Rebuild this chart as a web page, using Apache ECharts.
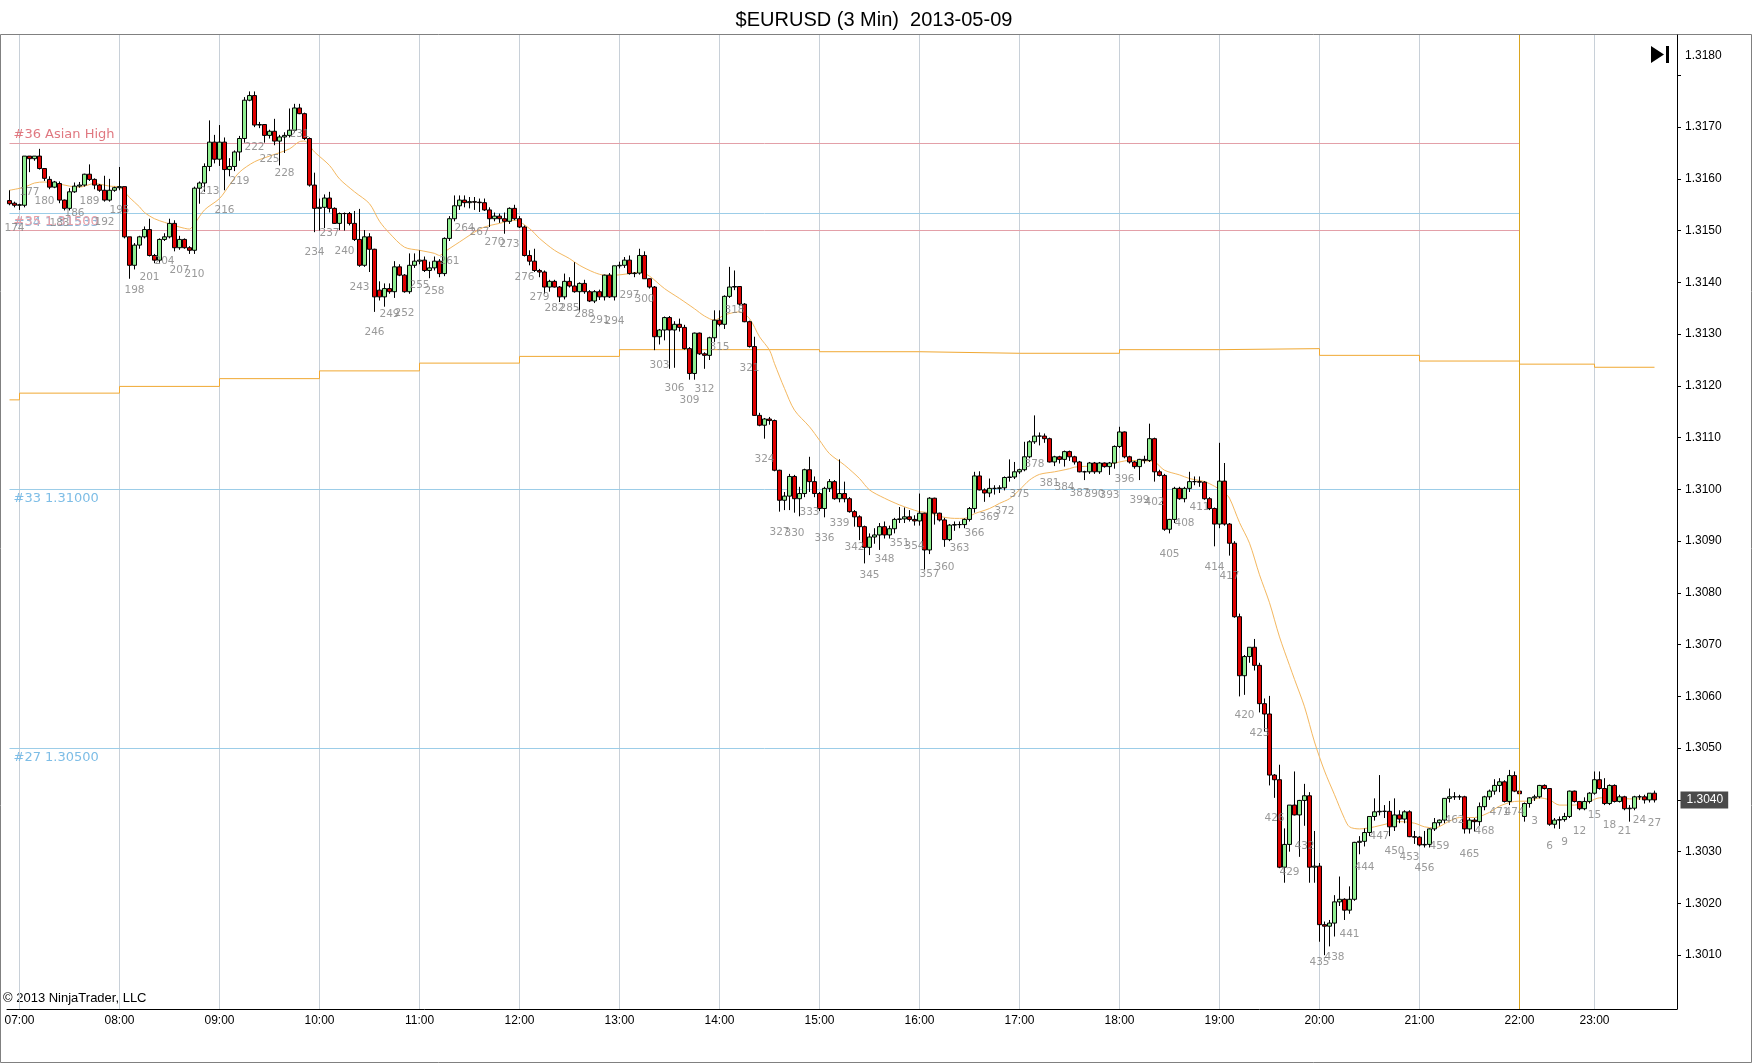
<!DOCTYPE html>
<html><head><meta charset="utf-8">
<script src="https://cdn.jsdelivr.net/npm/echarts@6/dist/echarts.min.js"></script>
<style>html,body{margin:0;padding:0;background:#fff}#c{width:1752px;height:1064px}</style>
</head><body><div id="c"></div>
<script>
const chartTitle = '$EURUSD (3 Min)  2013-05-09';
const copyrightText = '\u00A9 2013 NinjaTrader, LLC';
const session1Start = {bar: 173, time: '06:54'};
const session2Start = {bar: 1, time: '22:18'};
// [open, high, low, close] per 3-minute bar, session 1 (bars 173..475)
const ohlc1 = [
[1.31558,1.31578,1.31549,1.31552],[1.31553,1.31556,1.31545,1.31549],[1.31549,1.31552,1.31540,1.31550],[1.31549,1.31644,1.31545,1.31644],
[1.31644,1.31644,1.31613,1.31639],[1.31639,1.31644,1.31635,1.31644],[1.31644,1.31658,1.31618,1.31620],[1.31620,1.31620,1.31596,1.31601],
[1.31599,1.31605,1.31580,1.31584],[1.31584,1.31596,1.31582,1.31594],[1.31591,1.31595,1.31553,1.31559],[1.31559,1.31560,1.31539,1.31543],
[1.31543,1.31582,1.31539,1.31575],[1.31575,1.31593,1.31573,1.31586],[1.31586,1.31594,1.31583,1.31588],[1.31588,1.31610,1.31585,1.31609],
[1.31609,1.31628,1.31596,1.31599],[1.31599,1.31601,1.31580,1.31588],[1.31588,1.31590,1.31575,1.31578],[1.31578,1.31606,1.31556,1.31559],
[1.31559,1.31600,1.31556,1.31578],[1.31578,1.31585,1.31575,1.31583],[1.31583,1.31623,1.31578,1.31585],[1.31585,1.31585,1.31485,1.31488],
[1.31488,1.31488,1.31407,1.31433],[1.31433,1.31476,1.31425,1.31472],[1.31472,1.31490,1.31465,1.31488],[1.31488,1.31508,1.31485,1.31502],
[1.31502,1.31523,1.31450,1.31452],[1.31452,1.31455,1.31437,1.31443],[1.31443,1.31485,1.31438,1.31483],[1.31483,1.31495,1.31480,1.31488],
[1.31488,1.31523,1.31485,1.31514],[1.31514,1.31520,1.31460,1.31467],[1.31467,1.31490,1.31463,1.31483],[1.31483,1.31485,1.31465,1.31467],
[1.31467,1.31470,1.31455,1.31462],[1.31462,1.31585,1.31455,1.31582],[1.31582,1.31595,1.31552,1.31592],[1.31592,1.31630,1.31575,1.31624],
[1.31624,1.31713,1.31615,1.31671],[1.31671,1.31685,1.31630,1.31638],[1.31638,1.31704,1.31625,1.31671],[1.31671,1.31680,1.31578,1.31618],
[1.31618,1.31640,1.31605,1.31624],[1.31624,1.31655,1.31615,1.31652],[1.31652,1.31683,1.31635,1.31678],[1.31678,1.31758,1.31670,1.31752],
[1.31752,1.31769,1.31750,1.31761],[1.31761,1.31769,1.31700,1.31704],[1.31704,1.31710,1.31698,1.31705],[1.31705,1.31706,1.31670,1.31684],
[1.31684,1.31695,1.31678,1.31692],[1.31692,1.31716,1.31665,1.31673],[1.31673,1.31685,1.31626,1.31681],[1.31681,1.31690,1.31650,1.31684],
[1.31684,1.31736,1.31680,1.31694],[1.31694,1.31745,1.31690,1.31737],[1.31737,1.31745,1.31725,1.31726],[1.31726,1.31728,1.31675,1.31678],
[1.31678,1.31680,1.31585,1.31588],[1.31588,1.31612,1.31497,1.31543],[1.31543,1.31562,1.31500,1.31545],[1.31545,1.31570,1.31505,1.31563],
[1.31563,1.31575,1.31535,1.31543],[1.31543,1.31545,1.31513,1.31514],[1.31514,1.31535,1.31501,1.31533],[1.31533,1.31535,1.31500,1.31533],
[1.31533,1.31536,1.31510,1.31514],[1.31514,1.31538,1.31480,1.31483],[1.31483,1.31542,1.31430,1.31433],[1.31433,1.31501,1.31430,1.31488],
[1.31488,1.31495,1.31420,1.31464],[1.31464,1.31465,1.31343,1.31372],[1.31385,1.31402,1.31365,1.31372],[1.31372,1.31398,1.31353,1.31388],
[1.31388,1.31398,1.31378,1.31382],[1.31382,1.31441,1.31370,1.31430],[1.31430,1.31435,1.31412,1.31414],[1.31414,1.31416,1.31380,1.31382],
[1.31382,1.31456,1.31378,1.31433],[1.31433,1.31456,1.31428,1.31441],[1.31441,1.31462,1.31435,1.31443],[1.31443,1.31450,1.31420,1.31423],
[1.31423,1.31440,1.31408,1.31428],[1.31428,1.31450,1.31423,1.31441],[1.31441,1.31445,1.31410,1.31417],[1.31417,1.31487,1.31412,1.31485],
[1.31485,1.31528,1.31480,1.31523],[1.31523,1.31568,1.31518,1.31548],[1.31548,1.31568,1.31540,1.31559],[1.31559,1.31568,1.31545,1.31554],
[1.31554,1.31565,1.31543,1.31556],[1.31556,1.31565,1.31540,1.31555],[1.31555,1.31562,1.31536,1.31554],[1.31554,1.31562,1.31538,1.31540],
[1.31540,1.31545,1.31507,1.31523],[1.31523,1.31535,1.31518,1.31528],[1.31528,1.31533,1.31515,1.31523],[1.31523,1.31535,1.31494,1.31518],
[1.31518,1.31545,1.31513,1.31543],[1.31543,1.31550,1.31520,1.31523],[1.31523,1.31528,1.31505,1.31507],[1.31507,1.31510,1.31450,1.31452],
[1.31452,1.31462,1.31433,1.31441],[1.31441,1.31465,1.31420,1.31423],[1.31423,1.31426,1.31410,1.31420],[1.31420,1.31423,1.31378,1.31391],
[1.31391,1.31405,1.31382,1.31402],[1.31402,1.31405,1.31390,1.31391],[1.31391,1.31393,1.31362,1.31372],[1.31372,1.31417,1.31367,1.31402],
[1.31402,1.31410,1.31390,1.31393],[1.31393,1.31439,1.31380,1.31382],[1.31382,1.31400,1.31343,1.31398],[1.31398,1.31405,1.31378,1.31382],
[1.31382,1.31385,1.31362,1.31364],[1.31364,1.31385,1.31360,1.31382],[1.31382,1.31386,1.31366,1.31372],[1.31372,1.31415,1.31365,1.31414],
[1.31414,1.31418,1.31370,1.31372],[1.31372,1.31432,1.31365,1.31432],[1.31432,1.31440,1.31427,1.31433],[1.31433,1.31449,1.31428,1.31443],
[1.31443,1.31452,1.31415,1.31417],[1.31417,1.31420,1.31410,1.31418],[1.31418,1.31465,1.31415,1.31452],[1.31452,1.31460,1.31407,1.31407],
[1.31407,1.31408,1.31388,1.31391],[1.31391,1.31393,1.31269,1.31295],[1.31295,1.31310,1.31280,1.31308],[1.31308,1.31334,1.31288,1.31332],
[1.31332,1.31335,1.31233,1.31308],[1.31308,1.31325,1.31235,1.31319],[1.31319,1.31330,1.31305,1.31313],[1.31313,1.31318,1.31270,1.31272],
[1.31272,1.31275,1.31212,1.31224],[1.31224,1.31303,1.31212,1.31302],[1.31302,1.31303,1.31260,1.31262],[1.31262,1.31265,1.31233,1.31259],
[1.31259,1.31295,1.31250,1.31293],[1.31293,1.31346,1.31285,1.31327],[1.31327,1.31346,1.31315,1.31319],[1.31319,1.31375,1.31310,1.31373],
[1.31373,1.31430,1.31370,1.31391],[1.31391,1.31423,1.31385,1.31392],[1.31392,1.31393,1.31355,1.31358],[1.31358,1.31360,1.31323,1.31324],
[1.31324,1.31326,1.31274,1.31276],[1.31276,1.31295,1.31142,1.31143],[1.31143,1.31148,1.31122,1.31124],[1.31124,1.31138,1.31098,1.31136],
[1.31136,1.31140,1.31125,1.31133],[1.31133,1.31135,1.31035,1.31037],[1.31037,1.31038,1.30957,1.30979],[1.30979,1.30995,1.30960,1.30987],
[1.30987,1.31030,1.30960,1.31025],[1.31025,1.31028,1.30955,1.30982],[1.30982,1.31005,1.30948,1.30992],[1.30992,1.31040,1.30985,1.31038],
[1.31038,1.31063,1.30995,1.31015],[1.31015,1.31025,1.30985,1.30992],[1.30992,1.30995,1.30958,1.30963],[1.30963,1.31005,1.30946,1.31002],
[1.31002,1.31020,1.30995,1.31015],[1.31015,1.31018,1.30980,1.30982],[1.30982,1.31058,1.30975,1.30992],[1.30992,1.31015,1.30975,1.30982],
[1.30982,1.30985,1.30955,1.30957],[1.30957,1.30960,1.30928,1.30947],[1.30947,1.30950,1.30902,1.30928],[1.30928,1.30930,1.30857,1.30888],
[1.30888,1.30915,1.30873,1.30908],[1.30908,1.30925,1.30895,1.30912],[1.30912,1.30935,1.30883,1.30928],[1.30928,1.30938,1.30905,1.30912],
[1.30912,1.30930,1.30905,1.30924],[1.30924,1.30945,1.30915,1.30942],[1.30942,1.30966,1.30935,1.30943],[1.30943,1.30965,1.30935,1.30947],
[1.30947,1.30960,1.30938,1.30942],[1.30942,1.30950,1.30930,1.30939],[1.30939,1.30992,1.30930,1.30954],[1.30954,1.30955,1.30845,1.30883],
[1.30883,1.30985,1.30875,1.30983],[1.30983,1.30984,1.30932,1.30954],[1.30954,1.30955,1.30938,1.30941],[1.30941,1.30945,1.30889,1.30903],
[1.30903,1.30933,1.30900,1.30931],[1.30931,1.30938,1.30920,1.30932],[1.30932,1.30938,1.30925,1.30932],[1.30932,1.30944,1.30925,1.30942],
[1.30942,1.30966,1.30938,1.30963],[1.30963,1.31034,1.30955,1.31026],[1.31026,1.31035,1.30998,1.30999],[1.30999,1.31002,1.30976,1.30993],
[1.30993,1.31021,1.30985,1.31002],[1.31002,1.31008,1.30990,1.31002],[1.31002,1.31008,1.30993,1.31003],[1.31003,1.31025,1.30998,1.31023],
[1.31023,1.31058,1.31015,1.31024],[1.31024,1.31053,1.31020,1.31034],[1.31034,1.31040,1.31030,1.31038],[1.31038,1.31092,1.31035,1.31063],
[1.31063,1.31095,1.31060,1.31092],[1.31092,1.31143,1.31088,1.31103],[1.31103,1.31110,1.31085,1.31103],[1.31103,1.31108,1.31090,1.31098],
[1.31098,1.31100,1.31052,1.31053],[1.31053,1.31065,1.31045,1.31063],[1.31063,1.31065,1.31050,1.31058],[1.31058,1.31075,1.31044,1.31073],
[1.31073,1.31075,1.31055,1.31063],[1.31063,1.31065,1.31048,1.31053],[1.31053,1.31055,1.31033,1.31034],[1.31034,1.31036,1.31018,1.31034],
[1.31034,1.31053,1.31030,1.31051],[1.31051,1.31053,1.31030,1.31034],[1.31034,1.31053,1.31030,1.31051],[1.31051,1.31052,1.31042,1.31044],
[1.31044,1.31053,1.31028,1.31051],[1.31051,1.31085,1.31040,1.31083],[1.31083,1.31121,1.31080,1.31111],[1.31111,1.31112,1.31060,1.31063],
[1.31063,1.31065,1.31050,1.31053],[1.31053,1.31055,1.31040,1.31044],[1.31044,1.31059,1.31018,1.31058],[1.31058,1.31065,1.31050,1.31056],
[1.31056,1.31127,1.31053,1.31098],[1.31098,1.31100,1.31015,1.31034],[1.31034,1.31038,1.31025,1.31027],[1.31027,1.31030,1.30920,1.30923],
[1.30923,1.30943,1.30915,1.30942],[1.30942,1.31005,1.30935,1.31002],[1.31002,1.31005,1.30980,1.30982],[1.30982,1.31005,1.30975,1.31002],
[1.31002,1.31034,1.30995,1.31015],[1.31015,1.31025,1.31008,1.31015],[1.31015,1.31025,1.31005,1.31014],[1.31014,1.31016,1.30980,1.30982],
[1.30982,1.30985,1.30960,1.30963],[1.30963,1.30965,1.30890,1.30933],[1.30933,1.31090,1.30925,1.31016],[1.31016,1.31051,1.30930,1.30933],
[1.30933,1.30935,1.30872,1.30896],[1.30896,1.30900,1.30752,1.30754],[1.30754,1.30760,1.30600,1.30640],[1.30640,1.30680,1.30603,1.30677],
[1.30677,1.30695,1.30665,1.30695],[1.30695,1.30711,1.30650,1.30660],[1.30660,1.30665,1.30569,1.30586],[1.30586,1.30596,1.30532,1.30566],
[1.30566,1.30601,1.30428,1.30448],[1.30448,1.30450,1.30404,1.30439],[1.30439,1.30468,1.30268,1.30270],[1.30270,1.30345,1.30240,1.30314],
[1.30314,1.30390,1.30300,1.30390],[1.30390,1.30455,1.30370,1.30371],[1.30371,1.30400,1.30290,1.30399],[1.30399,1.30431,1.30350,1.30408],
[1.30408,1.30415,1.30240,1.30270],[1.30270,1.30340,1.30240,1.30272],[1.30272,1.30278,1.30126,1.30159],[1.30159,1.30165,1.30100,1.30156],
[1.30156,1.30168,1.30117,1.30162],[1.30162,1.30216,1.30136,1.30203],[1.30203,1.30252,1.30195,1.30208],[1.30208,1.30210,1.30168,1.30187],
[1.30187,1.30233,1.30180,1.30208],[1.30208,1.30319,1.30205,1.30318],[1.30318,1.30330,1.30295,1.30320],[1.30320,1.30345,1.30310,1.30337],
[1.30337,1.30368,1.30330,1.30368],[1.30368,1.30403,1.30360,1.30377],[1.30377,1.30448,1.30370,1.30378],[1.30378,1.30390,1.30365,1.30378],
[1.30378,1.30398,1.30330,1.30348],[1.30348,1.30403,1.30340,1.30371],[1.30371,1.30380,1.30355,1.30363],[1.30363,1.30380,1.30355,1.30377],
[1.30377,1.30380,1.30328,1.30329],[1.30329,1.30340,1.30315,1.30328],[1.30328,1.30330,1.30310,1.30313],[1.30313,1.30340,1.30308,1.30314],
[1.30314,1.30345,1.30308,1.30344],[1.30344,1.30365,1.30340,1.30356],[1.30356,1.30362,1.30350,1.30361],[1.30361,1.30403,1.30355,1.30403],
[1.30403,1.30422,1.30395,1.30406],[1.30406,1.30415,1.30400,1.30406],[1.30406,1.30410,1.30400,1.30406],[1.30406,1.30408,1.30335,1.30344],
[1.30344,1.30365,1.30335,1.30361],[1.30361,1.30365,1.30339,1.30358],[1.30358,1.30395,1.30350,1.30387],[1.30387,1.30408,1.30380,1.30406],
[1.30406,1.30420,1.30400,1.30417],[1.30417,1.30440,1.30410,1.30428],[1.30428,1.30442,1.30415,1.30435],[1.30435,1.30438,1.30395,1.30397],
[1.30397,1.30458,1.30390,1.30447],[1.30447,1.30455,1.30415,1.30417],[1.30417,1.30420,1.30395,1.30412]
];
// session 2 (bars 1..27)
const ohlc2 = [
[1.30368,1.30395,1.30358,1.30393],[1.30393,1.30405,1.30385,1.30404],[1.30404,1.30410,1.30398,1.30406],[1.30406,1.30429,1.30403,1.30428],
[1.30428,1.30430,1.30420,1.30422],[1.30422,1.30423,1.30350,1.30353],[1.30353,1.30365,1.30345,1.30361],[1.30361,1.30368,1.30344,1.30362],
[1.30362,1.30375,1.30358,1.30368],[1.30368,1.30418,1.30365,1.30417],[1.30417,1.30418,1.30395,1.30397],[1.30397,1.30398,1.30380,1.30383],
[1.30383,1.30405,1.30380,1.30397],[1.30397,1.30415,1.30393,1.30413],[1.30413,1.30455,1.30410,1.30439],[1.30439,1.30455,1.30420,1.30422],
[1.30422,1.30442,1.30390,1.30393],[1.30393,1.30430,1.30390,1.30428],[1.30428,1.30430,1.30395,1.30397],[1.30397,1.30410,1.30395,1.30406],
[1.30406,1.30408,1.30380,1.30383],[1.30383,1.30390,1.30358,1.30384],[1.30384,1.30408,1.30380,1.30406],[1.30406,1.30410,1.30400,1.30406],
[1.30406,1.30410,1.30393,1.30400],[1.30400,1.30413,1.30395,1.30413],[1.30413,1.30418,1.30395,1.30400]
];
// moving average: [bar, value]
const maPoints1 = [[173,1.31578],[176,1.31584],[178,1.31592],[180,1.31594],[182,1.31592],[185,1.31586],[187,1.31584],[190,1.31591],[193,1.31586],[195,1.31584],[197,1.31564],[199,1.31546],[200,1.31535],[202,1.31523],[204,1.31516],[207,1.31507],[209,1.31503],[210,1.31513],[212,1.31540],[215,1.31562],[217,1.31588],[219,1.31613],[222,1.31633],[225,1.31644],[229,1.31658],[231,1.31672],[232,1.31673],[234,1.31652],[237,1.31626],[239,1.31600],[242,1.31575],[245,1.31552],[247,1.31518],[249,1.31495],[252,1.31468],[255,1.31462],[258,1.31456],[259,1.31452],[260,1.31459],[263,1.31478],[266,1.31497],[268,1.31507],[271,1.31514],[274,1.31520],[277,1.31504],[279,1.31485],[282,1.31462],[285,1.31446],[287,1.31433],[290,1.31419],[292,1.31414],[294,1.31414],[297,1.31417],[299,1.31420],[301,1.31412],[304,1.31388],[307,1.31369],[310,1.31349],[312,1.31335],[314,1.31327],[316,1.31337],[319,1.31343],[321,1.31330],[323,1.31295],[325,1.31269],[326,1.31243],[328,1.31195],[330,1.31153],[333,1.31121],[335,1.31095],[337,1.31069],[340,1.31047],[343,1.31021],[345,1.30999],[348,1.30983],[351,1.30970],[353,1.30963],[355,1.30957],[357,1.30955],[359,1.30948],[362,1.30944],[364,1.30944],[366,1.30953],[369,1.30963],[371,1.30973],[373,1.30982],[375,1.30999],[377,1.31018],[379,1.31029],[382,1.31034],[385,1.31040],[386,1.31043],[389,1.31045],[392,1.31047],[395,1.31053],[397,1.31056],[400,1.31055],[402,1.31053],[404,1.31037],[407,1.31028],[409,1.31021],[412,1.31015],[414,1.31006],[416,1.30993],[417,1.30983],[419,1.30936],[421,1.30896],[423,1.30835],[425,1.30781],[427,1.30715],[429,1.30660],[430,1.30633],[432,1.30580],[434,1.30512],[436,1.30456],[438,1.30410],[440,1.30364],[441,1.30348],[443,1.30344],[446,1.30348],[449,1.30355],[451,1.30358],[454,1.30355],[456,1.30348],[458,1.30346],[461,1.30359],[463,1.30366],[466,1.30366],[469,1.30376],[471,1.30388],[474,1.30397]];
const maPoints2 = [[2,1.30398],[4,1.30404],[6,1.30400],[8,1.30390],[11,1.30390],[14,1.30397],[16,1.30404],[19,1.30404],[22,1.30402],[24,1.30402],[27,1.30402]];
// hourly step line: [bar where value starts, value]
const stepPoints1 = [[173,1.31173],[175,1.31186],[195,1.31199],[215,1.31214],[235,1.31229],[255,1.31244],[275,1.31257],[295,1.31270],[315,1.31270],[335,1.31266],[355,1.31263],[375,1.31263],[395,1.31270],[415,1.31272],[435,1.31259],[455,1.31248],[475,1.31242]];
const stepPoints2 = [[15,1.31236],[27,1.31236]];
const yTickLabels = ['1.3010','1.3020','1.3030','1.3040','1.3050','1.3060','1.3070','1.3080','1.3090','1.3100','1.3110','1.3120','1.3130','1.3140','1.3150','1.3160','1.3170','1.3180'];
const priceLines = [
  {value: 1.31668, text: '#36 Asian High', color: '#E3A0A8', textColor: '#E07880', above: true},
  {value: 1.31533, text: '#34 1.31533', color: '#9CCDE8', textColor: '#8FB8D8', above: false},
  {value: 1.31500, text: '#35 1.31500', color: '#E3A0A8', textColor: '#E8A0A8', above: true},
  {value: 1.31000, text: '#33 1.31000', color: '#9CCDE8', textColor: '#7DBDE6', above: false},
  {value: 1.30500, text: '#27 1.30500', color: '#9CCDE8', textColor: '#7DBDE6', above: false}
];
const markerTime = '22:00';
const lastPriceText = '1.3040';

function addMin(t, m) {
  const p = t.split(':').map(Number);
  const tot = p[0] * 60 + p[1] + m;
  return String(Math.floor(tot / 60)).padStart(2, '0') + ':' + String(tot % 60).padStart(2, '0');
}
const cats = [], candles = [], barLabels = [];
ohlc1.forEach((d, i) => {
  cats.push(addMin(session1Start.time, 3 * i));
  candles.push([d[0], d[3], d[2], d[1]]);
  const n = session1Start.bar + i;
  if (n % 3 === 0) barLabels.push({value: [cats.length - 1, d[2]], label: {formatter: String(n)}});
});
const s2Offset = cats.length;
ohlc2.forEach((d, i) => {
  cats.push(addMin(session2Start.time, 3 * i));
  candles.push([d[0], d[3], d[2], d[1]]);
  const n = session2Start.bar + i;
  if (n % 3 === 0) barLabels.push({value: [cats.length - 1, d[2]], label: {formatter: String(n)}});
});
const lastBarIdx = cats.length - 1;
for (let i = 1; i <= 4; i++) cats.push(' '.repeat(i));
const idx1 = b => b - session1Start.bar;
const idx2 = k => s2Offset + k - session2Start.bar;
const maData = maPoints1.map(p => [idx1(p[0]), p[1]]).concat(maPoints2.map(p => [idx2(p[0]), p[1]]));
const stepData = stepPoints1.map(p => [idx1(p[0]), p[1]]).concat(stepPoints2.map(p => [idx2(p[0]), p[1]]));
const markerIdx = cats.indexOf(markerTime);
const isHour = (i, v) => /:00$/.test(v);
const hourCats = cats.filter((v, i) => isHour(i, v));
const lastClose = ohlc2[ohlc2.length - 1][3];
const topTick = yTickLabels[yTickLabels.length - 1];

const chart = echarts.init(document.getElementById('c'), null, {renderer: 'canvas'});
chart.setOption({
  animation: false,
  backgroundColor: '#fff',
  title: {text: chartTitle, left: 869, textAlign: 'center', top: 5, textStyle: {fontSize: 20, fontWeight: 'normal', fontFamily: 'Liberation Sans', color: '#000'}},
  grid: {left: 7, right: 75, top: 35, bottom: 55},
  xAxis: {
    type: 'category', data: cats, boundaryGap: true,
    axisLine: {lineStyle: {color: '#000'}},
    axisTick: {alignWithLabel: true, interval: isHour, length: 4, lineStyle: {color: '#000'}},
    axisLabel: {interval: isHour, color: '#000', fontSize: 12, fontFamily: 'Liberation Sans', margin: 6},
    splitLine: {show: false}
  },
  yAxis: {
    type: 'value', position: 'right', min: 1.29996, max: 1.31878, scale: true,
    axisLine: {show: true, lineStyle: {color: '#000'}},
    axisTick: {show: true, length: 4, lineStyle: {color: '#000'}, customValues: yTickLabels.map(Number)},
    axisLabel: {
      color: '#000', fontSize: 12, fontFamily: 'Liberation Sans', margin: 8, customValues: yTickLabels.map(Number),
      formatter: v => (v.toFixed(4) === topTick ? '{top|' + topTick + '}' : v.toFixed(4)),
      rich: {top: {color: '#000', fontSize: 12, fontFamily: 'Liberation Sans', padding: [0, 0, 40, 0]}}
    },
    splitLine: {show: false}
  },
  series: [
    {
      type: 'line', name: 'step', data: stepData, step: 'end', symbol: 'none', z: 2,
      lineStyle: {color: '#F0A832', width: 1}, silent: true,
      markLine: {
        z: 1, silent: true, symbol: ['none', 'none'], label: {show: false},
        lineStyle: {color: '#C8D0D8', width: 1, type: 'solid'},
        data: hourCats.map(c => ({xAxis: c}))
      }
    },
    {
      type: 'line', name: 'ma', data: maData, symbol: 'none', smooth: 0.3, z: 2,
      lineStyle: {color: '#F4B860', width: 1}, silent: true,
      markLine: {
        z: 2, silent: true, symbol: ['none', 'none'],
        data: priceLines.map(h => [
          {coord: [0, h.value], lineStyle: {color: h.color, width: 1, type: 'solid'},
           label: {show: true, position: h.above ? 'insideStartTop' : 'insideStartBottom', distance: [4, 3], formatter: h.text, color: h.textColor, fontSize: 13, fontFamily: 'DejaVu Sans'}},
          {coord: [markerIdx, h.value]}
        ]).concat([[
          {coord: [lastBarIdx, lastClose], lineStyle: {color: 'rgba(0,0,0,0)', width: 1},
           label: {show: true, position: 'end', formatter: lastPriceText, color: '#fff', backgroundColor: '#4A4A4A', padding: [3, 5, 2, 6], fontSize: 12, fontFamily: 'Liberation Sans', distance: 6}},
          {coord: [cats.length - 1, lastClose]}
        ]])
      }
    },
    {
      type: 'candlestick', name: 'EURUSD', data: candles, barWidth: 4, z: 3,
      itemStyle: {color: '#90EE90', color0: '#E00000', borderColor: '#000', borderColor0: '#000', borderColorDoji: '#000', borderWidth: 1},
      markLine: {
        z: 4, silent: true, symbol: ['none', 'none'],
        data: [
          {xAxis: markerTime, lineStyle: {color: '#DAA520', width: 1, type: 'solid'}, label: {show: false}}
        ]
      }
    },
    {
      type: 'scatter', name: 'barnum', data: barLabels, symbolSize: 0, silent: true, z: 5,
      label: {show: true, position: 'bottom', distance: 15, color: '#808080', fontSize: 10.5, fontFamily: 'DejaVu Sans'}
    }
  ],
  graphic: [
    {type: 'rect', shape: {x: 0.5, y: 34.5, width: 1751, height: 1028}, style: {fill: 'none', stroke: '#808080', lineWidth: 1}, silent: true},
    {type: 'text', left: 3, top: 992, style: {text: copyrightText, font: '13px Liberation Sans', fill: '#000'}, silent: true},
    {type: 'polygon', shape: {points: [[1651, 46], [1651, 63], [1664, 54.5]]}, style: {fill: '#000'}, silent: true},
    {type: 'rect', shape: {x: 1666, y: 46, width: 3, height: 17}, style: {fill: '#000'}, silent: true}
  ]
});
</script></body></html>
